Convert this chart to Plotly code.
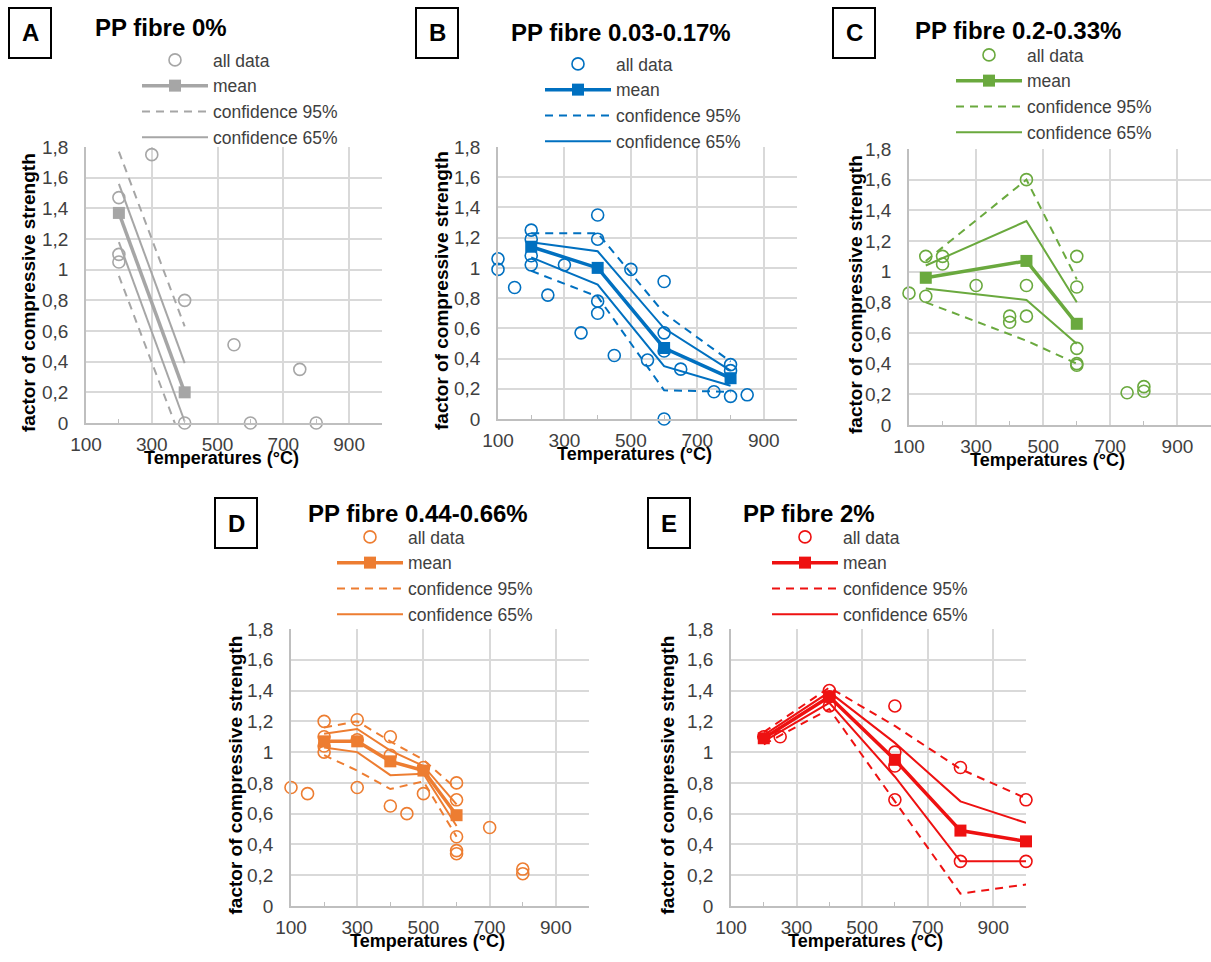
import plotly.graph_objects as go

W, H = 1211, 962

# ---------------- data ----------------
x_tickvals = [100, 300, 500, 700, 900]
y_tickvals = [0, 0.2, 0.4, 0.6, 0.8, 1.0, 1.2, 1.4, 1.6, 1.8]
y_ticktext = ["0", "0,2", "0,4", "0,6", "0,8", "1", "1,2", "1,4", "1,6", "1,8"]

# Panel A  PP fibre 0%
A_all_T = [200, 200, 200, 300, 400, 400, 550, 600, 750, 800]
A_all_F = [1.47, 1.10, 1.05, 1.75, 0.80, 0.00, 0.51, 0.00, 0.35, 0.00]
A_mean_T = [200, 400]
A_mean = [1.37, 0.20]
A_c95_up = [1.77, 0.63]
A_c95_lo = [0.96, -0.17]
A_c65_up = [1.56, 0.39]
A_c65_lo = [1.18, 0.01]

# Panel B  PP fibre 0.03-0.17%
B_all_T = [100, 100, 150, 200, 200, 200, 200, 250, 300, 350, 400, 400, 400, 400,
           450, 500, 550, 600, 600, 600, 600, 650, 750, 800, 800, 800, 850]
B_all_F = [1.06, 0.99, 0.87, 1.25, 1.19, 1.08, 1.02, 0.82, 1.02, 0.57, 1.35, 1.19, 0.78, 0.70,
           0.42, 0.99, 0.39, 0.91, 0.57, 0.45, 0.00, 0.33, 0.18, 0.36, 0.32, 0.15, 0.16]
B_mean_T = [200, 400, 600, 800]
B_mean = [1.14, 1.00, 0.47, 0.27]
B_c95_up = [1.23, 1.23, 0.70, 0.38]
B_c95_lo = [0.98, 0.81, 0.19, 0.18]
B_c65_up = [1.17, 1.11, 0.60, 0.32]
B_c65_lo = [1.07, 0.89, 0.35, 0.22]

# Panel C  PP fibre 0.2-0.33%
C_all_T = [100, 150, 150, 200, 200, 300, 400, 400, 450, 450, 450, 600, 600, 600, 600, 600, 750, 800, 800]
C_all_F = [0.86, 1.10, 0.84, 1.10, 1.05, 0.91, 0.71, 0.67, 1.60, 0.91, 0.71, 1.10, 0.90, 0.50, 0.40, 0.39, 0.21, 0.25, 0.22]
C_mean_T = [150, 450, 600]
C_mean = [0.96, 1.07, 0.66]
C_c95_up = [1.07, 1.60, 0.95]
C_c95_lo = [0.80, 0.55, 0.40]
C_c65_up = [1.04, 1.33, 0.80]
C_c65_lo = [0.89, 0.815, 0.53]

# Panel D  PP fibre 0.44-0.66%
D_all_T = [100, 150, 200, 200, 200, 200, 300, 300, 300, 400, 400, 400, 450, 500, 500,
           600, 600, 600, 600, 600, 700, 800, 800]
D_all_F = [0.77, 0.73, 1.20, 1.10, 1.04, 1.00, 1.21, 1.08, 0.77, 1.10, 0.98, 0.65, 0.60, 0.73, 0.90,
           0.80, 0.69, 0.45, 0.36, 0.34, 0.51, 0.24, 0.21]
D_mean_T = [200, 300, 400, 500, 600]
D_mean = [1.07, 1.07, 0.94, 0.88, 0.59]
D_c95_up = [1.16, 1.20, 1.07, 0.95, 0.76]
D_c95_lo = [0.98, 0.88, 0.76, 0.81, 0.45]
D_c65_up = [1.12, 1.15, 1.01, 0.91, 0.66]
D_c65_lo = [1.03, 1.00, 0.85, 0.86, 0.52]

# Panel E  PP fibre 2%
E_all_T = [200, 250, 400, 400, 400, 600, 600, 600, 600, 800, 800, 1000, 1000]
E_all_F = [1.10, 1.10, 1.40, 1.36, 1.30, 1.30, 1.00, 0.91, 0.69, 0.90, 0.29, 0.69, 0.29]
E_mean_T = [200, 400, 600, 800, 1000]
E_mean = [1.09, 1.36, 0.95, 0.49, 0.42]
E_c95_up = [1.13, 1.42, 1.17, 0.89, 0.70]
E_c95_lo = [1.05, 1.28, 0.68, 0.08, 0.14]
E_c65_up = [1.11, 1.39, 1.06, 0.68, 0.54]
E_c65_lo = [1.07, 1.32, 0.84, 0.29, 0.29]

panels = [
    dict(key="A", title="PP fibre 0%", color="#A6A6A6",
         T=A_all_T, F=A_all_F, mT=A_mean_T, m=A_mean,
         u95=A_c95_up, l95=A_c95_lo, u65=A_c65_up, l65=A_c65_lo),
    dict(key="B", title="PP fibre 0.03-0.17%", color="#0070C0",
         T=B_all_T, F=B_all_F, mT=B_mean_T, m=B_mean,
         u95=B_c95_up, l95=B_c95_lo, u65=B_c65_up, l65=B_c65_lo),
    dict(key="C", title="PP fibre 0.2-0.33%", color="#6AA93E",
         T=C_all_T, F=C_all_F, mT=C_mean_T, m=C_mean,
         u95=C_c95_up, l95=C_c95_lo, u65=C_c65_up, l65=C_c65_lo),
    dict(key="D", title="PP fibre 0.44-0.66%", color="#ED7D31",
         T=D_all_T, F=D_all_F, mT=D_mean_T, m=D_mean,
         u95=D_c95_up, l95=D_c95_lo, u65=D_c65_up, l65=D_c65_lo),
    dict(key="E", title="PP fibre 2%", color="#EE1111",
         T=E_all_T, F=E_all_F, mT=E_mean_T, m=E_mean,
         u95=E_c95_up, l95=E_c95_lo, u65=E_c65_up, l65=E_c65_lo),
]

# ---------------- geometry (pixels) ----------------
geom = {
    "A": dict(box=(86, 382, 147, 423), title=(161, 27), letter=(30, 33), leg=(215, 61), ytx=28),
    "B": dict(box=(498, 797, 147, 419), title=(621, 32), letter=(437, 33), leg=(618, 65), ytx=442),
    "C": dict(box=(909, 1211, 149, 425), title=(1018, 30), letter=(854, 33), leg=(1029, 56), ytx=855),
    "D": dict(box=(291, 589, 629, 906), title=(418, 513), letter=(236, 523), leg=(410, 538), ytx=235),
    "E": dict(box=(731, 1026, 629, 906), title=(809, 513), letter=(669, 523), leg=(845, 538), ytx=667),
}

FONT = "Liberation Sans, Arial, sans-serif"
TXT = "#404040"
GRID = "#D9D9D9"
AXL = "#BFBFBF"
ITEMW = 66

def px(x):
    return x / W

def py(y):
    return 1 - y / H

fig = go.Figure()
layout = dict(width=W, height=H, margin=dict(l=0, r=0, t=0, b=0),
              paper_bgcolor="white", plot_bgcolor="white",
              font=dict(family=FONT, color=TXT), showlegend=True)
annotations = []
shapes = []

for i, p in enumerate(panels):
    n = "" if i == 0 else str(i + 1)
    xa, ya = "x" + n, "y" + n
    leg = "legend" + n
    g = geom[p["key"]]
    x0, x1, y0, y1 = g["box"]
    c = p["color"]

    layout["xaxis" + n] = dict(
        domain=[px(x0), px(x1)], anchor=ya, range=[100, 1000],
        tickvals=x_tickvals, showgrid=True, gridcolor=GRID, gridwidth=1.5,
        showline=True, linecolor=AXL, linewidth=1.5, zeroline=False,
        ticks="", ticklabelstandoff=3, automargin=False,
        tickfont=dict(size=19, color=TXT, family=FONT),
        minor=dict(tickvals=[200, 400, 600, 800], ticks="inside", ticklen=4,
                   tickcolor=AXL, showgrid=False),
    )
    layout["yaxis" + n] = dict(
        domain=[py(y1), py(y0)], anchor=xa, range=[0, 1.8],
        tickvals=y_tickvals, ticktext=y_ticktext, showgrid=True, gridcolor=GRID,
        gridwidth=1.5, showline=True, linecolor=AXL, linewidth=1.5, zeroline=False,
        ticks="", ticklabelstandoff=12, automargin=False,
        tickfont=dict(size=19, color=TXT, family=FONT),
    )

    tx, ty = g["leg"]
    layout[leg] = dict(x=px(tx - ITEMW - 12), y=py(ty - 19), xanchor="left", yanchor="top",
                       bgcolor="rgba(0,0,0,0)", itemwidth=ITEMW,
                       font=dict(size=17.5, color=TXT, family=FONT), tracegroupgap=0,
                       traceorder="normal")

    # confidence 95%
    fig.add_trace(go.Scatter(x=p["mT"], y=p["u95"], mode="lines", name="confidence 95%",
                             line=dict(color=c, width=2, dash="8px,6px"), xaxis=xa, yaxis=ya,
                             legend=leg, legendgroup=p["key"] + "95", legendrank=3))
    fig.add_trace(go.Scatter(x=p["mT"], y=p["l95"], mode="lines", name="confidence 95%",
                             line=dict(color=c, width=2, dash="8px,6px"), xaxis=xa, yaxis=ya,
                             legend=leg, legendgroup=p["key"] + "95", showlegend=False))
    # confidence 65%
    fig.add_trace(go.Scatter(x=p["mT"], y=p["u65"], mode="lines", name="confidence 65%",
                             line=dict(color=c, width=2), xaxis=xa, yaxis=ya,
                             legend=leg, legendgroup=p["key"] + "65", legendrank=4))
    fig.add_trace(go.Scatter(x=p["mT"], y=p["l65"], mode="lines", name="confidence 65%",
                             line=dict(color=c, width=2), xaxis=xa, yaxis=ya,
                             legend=leg, legendgroup=p["key"] + "65", showlegend=False))
    # all data
    fig.add_trace(go.Scatter(x=p["T"], y=p["F"], mode="markers", name="all data",
                             marker=dict(symbol="circle-open", size=12, color=c,
                                         line=dict(width=1.6, color=c)),
                             cliponaxis=False, xaxis=xa, yaxis=ya, legend=leg, legendrank=1))
    # mean
    fig.add_trace(go.Scatter(x=p["mT"], y=p["m"], mode="lines+markers", name="mean",
                             line=dict(color=c, width=3.5),
                             marker=dict(symbol="square", size=12, color=c),
                             cliponaxis=False, xaxis=xa, yaxis=ya, legend=leg, legendrank=2))

    # titles
    annotations.append(dict(text="<b>" + p["title"] + "</b>", x=px(g["title"][0]), y=py(g["title"][1]),
                            xref="paper", yref="paper", showarrow=False, xanchor="center",
                            yanchor="middle", font=dict(size=24, color="black", family=FONT)))
    # letter box
    lx, ly = g["letter"]
    shapes.append(dict(type="rect", xref="paper", yref="paper",
                       x0=px(lx - 21), x1=px(lx + 21), y0=py(ly + 25), y1=py(ly - 25),
                       line=dict(color="black", width=2), fillcolor="white"))
    annotations.append(dict(text="<b>" + p["key"] + "</b>", x=px(lx), y=py(ly),
                            xref="paper", yref="paper", showarrow=False, xanchor="center",
                            yanchor="middle", font=dict(size=24, color="black", family=FONT)))
    # axis titles
    annotations.append(dict(text="<b>Temperatures (°C)</b>", x=px((x0 + x1) / 2 - 13), y=py(y1 + 35),
                            xref="paper", yref="paper", showarrow=False, xanchor="center",
                            yanchor="middle", font=dict(size=18, color="black", family=FONT)))
    annotations.append(dict(text="<b>factor of compressive strength</b>", x=px(g["ytx"]),
                            y=py((y0 + y1) / 2 + 8), textangle=-90,
                            xref="paper", yref="paper", showarrow=False, xanchor="center",
                            yanchor="middle", font=dict(size=19, color="black", family=FONT)))

layout["annotations"] = annotations
layout["shapes"] = shapes
fig.update_layout(**layout)
fig.write_html("out.html")
